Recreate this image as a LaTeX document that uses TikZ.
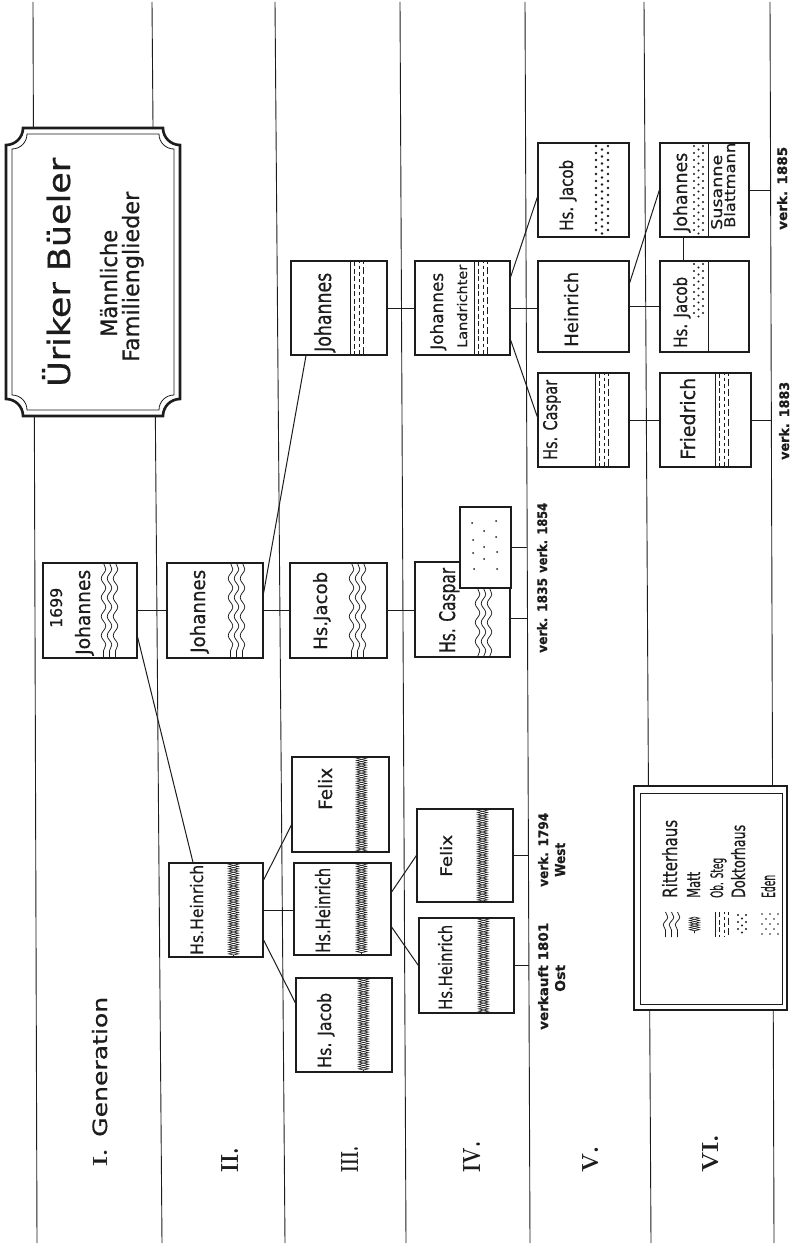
\documentclass[tikz,border=0pt]{standalone}
\usepackage{fontspec}
\usepackage{graphicx}
\usetikzlibrary{decorations.pathmorphing}
\newfontfamily\hand[FakeBold=0.6]{DejaVu Sans}
\definecolor{ink}{HTML}{1C1C1C}
\newcommand\hw[3]{\resizebox{#1pt}{#2pt}{\hand #3}}
\newcommand\hwb[3]{\resizebox{#1pt}{#2pt}{\hand\bfseries #3}}
\newcommand\rn[3]{\resizebox{#1pt}{#2pt}{\rmfamily\bfseries #3}}
\tikzset{
 box/.style={draw=ink, fill=white, line width=1.2pt, rectangle, inner sep=0pt},
 conn/.style={draw=ink, line width=1pt},
 gline/.style={draw=ink, line width=0.9pt},
 txt/.style={rotate=90, inner sep=0pt, anchor=base west, text=ink},
 pat/.style={draw=ink, line width=0.75pt},
}
\newcommand\ritter[4][19]{\foreach \dx in {2.5,8.5,14.5}{\draw[pat,decorate,decoration={snake,segment length=#1pt,amplitude=2.3pt}] ({#2+\dx},#3) -- ({#2+\dx},#4);}}
\newcommand\matt[3]{\draw[pat,line width=0.6pt,decorate,decoration={zigzag,segment length=4.6pt,amplitude=5pt}] ({#1+5.5},#2) -- ({#1+5.5},#3);
 \draw[pat,line width=0.6pt,decorate,decoration={zigzag,segment length=4.6pt,amplitude=5pt,mirror}] ({#1+5.5},#2) -- ({#1+5.5},#3);}
\newcommand\steg[3]{\draw[pat,line width=0.7pt] (#1,#2) -- (#1,#3);
 \draw[pat,line width=0.7pt,dash pattern=on 5pt off 2.5pt] ({#1+4.5},#2) -- ({#1+4.5},#3);
 \draw[pat,line width=0.7pt,dash pattern=on 3.5pt off 3pt,dash phase=2pt] ({#1+9},#2) -- ({#1+9},#3);
 \draw[pat,line width=0.7pt,dash pattern=on 7pt off 3pt,dash phase=4pt] ({#1+13.5},#2) -- ({#1+13.5},#3);}
\newcommand\doktor[5][1.4]{\pgfmathtruncatemacro\nn{((#5)-(#4)-7)/7}%
 \foreach \i in {0,...,\nn}{%
   \fill[ink] ({#2},{#4+3+7*\i}) circle (#1pt);
   \fill[ink] ({#2+#3},{#4+3+7*\i}) circle (#1pt);
   \fill[ink] ({#2+#3/2},{#4+6.5+7*\i}) circle (#1pt);}}
\begin{document}
\begin{tikzpicture}[x=1pt,y=-1pt]
\useasboundingbox (0,0) rectangle (796,1244);
\fill[white] (0,0) rectangle (796,1244);
% generation lines
\draw[gline] (33,2) -- (37,1243);
\draw[gline] (152,2) -- (162,1243);
\draw[gline] (275,2) -- (285,1243);
\draw[gline] (400,2) -- (406,1243);
\draw[gline] (525,2) -- (530,1243);
\draw[gline] (644,2) -- (651,1243);
\draw[gline] (770,2) -- (774,1243);
% title frame
\draw[draw=ink, fill=white, line width=2.6pt] (23,128) -- (163,128) .. controls (163,137.4) and (170.6,145) .. (180,145) -- (180,399) .. controls (170.6,399) and (163,406.6) .. (163,416) -- (23,416) .. controls (23,406.6) and (15.4,399) .. (6,399) -- (6,145) .. controls (15.4,145) and (23,137.4) .. (23,128) -- cycle;
\draw[draw=ink, line width=0.8pt] (27,134) -- (159,134) .. controls (159,142.3) and (165.7,149) .. (174,149) -- (174,395) .. controls (165.7,395) and (159,401.7) .. (159,410) -- (27,410) .. controls (27,401.7) and (20.3,395) .. (12,395) -- (12,149) .. controls (20.3,149) and (27,142.3) .. (27,134) -- cycle;
\node[txt] (title) at (70,387) {\hw{229}{28}{Üriker Büeler}};
\node[txt] (sub1) at (117,337) {\hw{107}{17}{Männliche}};
\node[txt] (sub2) at (139,362) {\hw{170}{17}{Familienglieder}};
% legend frame
\draw[draw=ink, fill=white, line width=2.6pt] (634,786) rectangle (787,1010);
\draw[draw=ink, line width=0.8pt] (640,793) rectangle (782,1004);
% line end points
\coordinate (e1) at (527.2,547.5);
\coordinate (e2) at (527.5,618);
\coordinate (e3) at (528.4,855.5);
\coordinate (e4) at (528.9,965.5);
\coordinate (e5) at (771.4,420);
\coordinate (e6) at (770.6,190);
% boxes
\node[box, minimum width=94pt, minimum height=95pt] (b1) at (90,610.5) {};
\node[box, minimum width=96pt, minimum height=95pt] (b2) at (215,610.5) {};
\node[box, minimum width=94pt, minimum height=94pt] (b3) at (216,910) {};
\node[box, minimum width=96pt, minimum height=94pt] (b4) at (339,308) {};
\node[box, minimum width=97pt, minimum height=95pt] (b5) at (338.5,610.5) {};
\node[box, minimum width=97pt, minimum height=95pt] (b6) at (340.5,804.5) {};
\node[box, minimum width=97pt, minimum height=92pt] (b7) at (342.5,909) {};
\node[box, minimum width=96pt, minimum height=94pt] (b8) at (344,1025) {};
\node[box, minimum width=95pt, minimum height=94pt] (b9) at (462.5,308) {};
\node[box, minimum width=95pt, minimum height=95pt] (b10) at (462.5,609.5) {};
\node[box, minimum width=96pt, minimum height=93pt] (b11) at (465,855.5) {};
\node[box, minimum width=95pt, minimum height=95pt] (b12) at (466.5,965.5) {};
\node[box, minimum width=91pt, minimum height=94pt] (b13) at (583.5,190) {};
\node[box, minimum width=91pt, minimum height=91pt] (b14) at (583.5,306.5) {};
\node[box, minimum width=91pt, minimum height=94pt] (b15) at (583.5,420) {};
\node[box, minimum width=89pt, minimum height=94pt] (b16) at (704.5,190) {};
\node[box, minimum width=89pt, minimum height=91pt] (b17) at (704.5,306.5) {};
\node[box, minimum width=91pt, minimum height=94pt] (b18) at (705.5,420) {};
% connectors
\draw[conn] (b1.east) -- (b2.west);
\draw[conn] ([yshift=-26.5pt]b1.east) -- ([xshift=-23pt]b3.north);
\draw[conn] (b2.east) -- (b5.west);
\draw[conn] ([yshift=17.5pt]b2.east) -- ([xshift=-33pt]b4.south);
\draw[conn] (b5.east) -- (b5.east -| b10.west);
\draw[conn] (b4.east) -- (b9.west);
\draw[conn] ([yshift=31pt]b9.east) -- ([yshift=-7pt]b13.west);
\draw[conn] (b9.east) -- (b9.east -| b14.west);
\draw[conn] ([yshift=-32pt]b9.east) -- ([yshift=3pt]b15.west);
\draw[conn] (b14.east) -- (b17.west);
\draw[conn] ([yshift=23.5pt]b14.east) -- (b16.west);
\draw[conn] ([xshift=-21.5pt]b16.south) -- ([xshift=-21.5pt]b17.north);
\draw[conn] (b15.east) -- (b18.west);
\draw[conn] (b18.east) -- (e5);
\draw[conn] (b16.east) -- (e6);
\draw[conn] (b3.east) -- (b3.east -| b7.west);
\draw[conn] ([yshift=30pt]b3.east) -- ([yshift=-20.5pt]b6.west);
\draw[conn] ([yshift=-30pt]b3.east) -- ([yshift=22pt]b8.west);
\draw[conn] ([yshift=17pt]b7.east) -- (b11.west);
\draw[conn] ([yshift=-18pt]b7.east) -- (b12.west);
\draw[conn] ([yshift=-8.5pt]b10.east) -- (e2);
\draw[conn] (b11.east) -- (e3);
\draw[conn] (b12.east) -- (e4);
% patterns
\ritter{101}{563}{658}
\ritter{228}{563}{658}
\ritter{349}{563}{658}
\ritter{475}{588}{657}
\matt{228}{863}{957}
\matt{356}{757}{852}
\matt{356}{863}{955}
\matt{358}{978}{1072}
\matt{477}{809}{902}
\matt{478}{918}{1013}
\steg{350}{261}{355}
\steg{474}{261}{355}
\steg{595}{373}{467}
\steg{715}{373}{467}
\doktor{596}{12}{143}{237}
\doktor[1.2]{694}{9}{143}{237}
\doktor[1.2]{694}{9}{261}{318}
\draw[draw=ink, line width=1pt] (708,143) -- (708,237);
\draw[draw=ink, line width=1pt] (708,261) -- (708,352);
% Eden box
\node[box, minimum width=51pt, minimum height=81pt] (b10e) at (485.5,547.5) {};
\draw[conn] (b10e.east) -- (e1);
\foreach \p in {(472,523),(496,521),(484,531),(473,540),(496,537),(484,547),(473,553),(497,552),(484,559),(474,569),(497,569)}{\fill[ink] \p circle (1pt);}
% box texts
\node[txt] (t1a) at (62,628) {\hw{40}{12}{1699}};
\node[txt] (t1b) at (90,655) {\hw{85}{15}{Johannes}};
\node[txt] (t2) at (205,653) {\hw{83}{15}{Johannes}};
\node[txt] (t3) at (203,955) {\hw{90}{13}{Hs.Heinrich}};
\node[txt] (t4) at (331,352) {\hw{79}{17}{Johannes}};
\node[txt] (t5) at (327,650) {\hw{78}{14}{Hs.Jacob}};
\node[txt] (t6) at (332,810) {\hw{42}{14}{Felix}};
\node[txt] (t7) at (330,953) {\hw{85}{15}{Hs.Heinrich}};
\node[txt] (t8) at (331,1068) {\hw{75}{14}{Hs. Jacob}};
\node[txt] (t9a) at (443,350) {\hw{77}{13}{Johannes}};
\node[txt] (t9b) at (467,348) {\hw{83}{10}{Landrichter}};
\node[txt] (t10) at (455,653) {\hw{85}{16}{Hs. Caspar}};
\node[txt] (t11) at (452,877) {\hw{42}{12}{Felix}};
\node[txt] (t12) at (452,1010) {\hw{85}{14}{Hs.Heinrich}};
\node[txt] (t13) at (573,231) {\hw{71}{14}{Hs. Jacob}};
\node[txt] (t14) at (578,347) {\hw{75}{14}{Heinrich}};
\node[txt] (t15) at (557,460) {\hw{80}{14}{Hs. Caspar}};
\node[txt] (t16a) at (687,232) {\hw{79}{14}{Johannes}};
\node[txt] (t16b) at (722,230) {\hw{75}{11}{Susanne}};
\node[txt] (t16c) at (735,228) {\hw{85}{11}{Blattmann}};
\node[txt] (t17) at (687,348) {\hw{71}{14}{Hs. Jacob}};
\node[txt] (t18) at (695,460) {\hw{82}{15}{Friedrich}};
% sale labels
\node[txt] (l1) at (547,573) {\hwb{70}{10}{verk. 1854}};
\node[txt] (l2) at (547,653) {\hwb{75}{10}{verk. 1835}};
\node[txt] (l3) at (548,887) {\hwb{74}{10}{verk. 1794}};
\node[txt] (l4) at (565,877) {\hwb{34}{10}{West}};
\node[txt] (l5) at (548,1030) {\hwb{107}{10}{verkauft 1801}};
\node[txt] (l6) at (565,992) {\hwb{27}{10}{Ost}};
\node[txt] (l7) at (789,460) {\hwb{78}{10}{verk. 1883}};
\node[txt] (l8) at (787,230) {\hwb{83}{10}{verk. 1885}};
% generation labels
\node[txt] (g1) at (107,1167) {\rn{17}{14}{I.}};
\node[txt] (gen) at (107,1137) {\hw{140}{15}{Generation}};
\node[txt] (g2) at (238,1173) {\rn{25}{17}{II.}};
\node[txt] (g3) at (358,1173) {\rn{26}{17}{III.}};
\node[txt] (g4) at (480,1173) {\rn{31}{17}{IV.}};
\node[txt] (g5) at (598,1173) {\rn{26}{16}{V.}};
\node[txt] (g6) at (718,1173) {\rn{38}{16}{VI.}};
% legend content
\ritter[16]{663}{912}{937}
\matt{689}{917}{933}
\steg{715}{912}{937}
\doktor[1.2]{738}{8}{912}{937}
\foreach \p in {(762,914),(770,914),(778,914),(766,919),(774,919),(762,924),(770,924),(778,924),(766,929),(774,929),(762,934),(770,934),(778,934)}{\fill[ink] \p circle (0.8pt);}
\node[txt] (k1) at (677,898) {\hw{78}{15}{Ritterhaus}};
\node[txt] (k2) at (700,898) {\hw{26}{13}{Matt}};
\node[txt] (k3) at (723,898) {\hw{40}{13}{Ob. Steg}};
\node[txt] (k4) at (745,898) {\hw{73}{14}{Doktorhaus}};
\node[txt] (k5) at (775,898) {\hw{23}{14}{Eden}};
\end{tikzpicture}
\end{document}
